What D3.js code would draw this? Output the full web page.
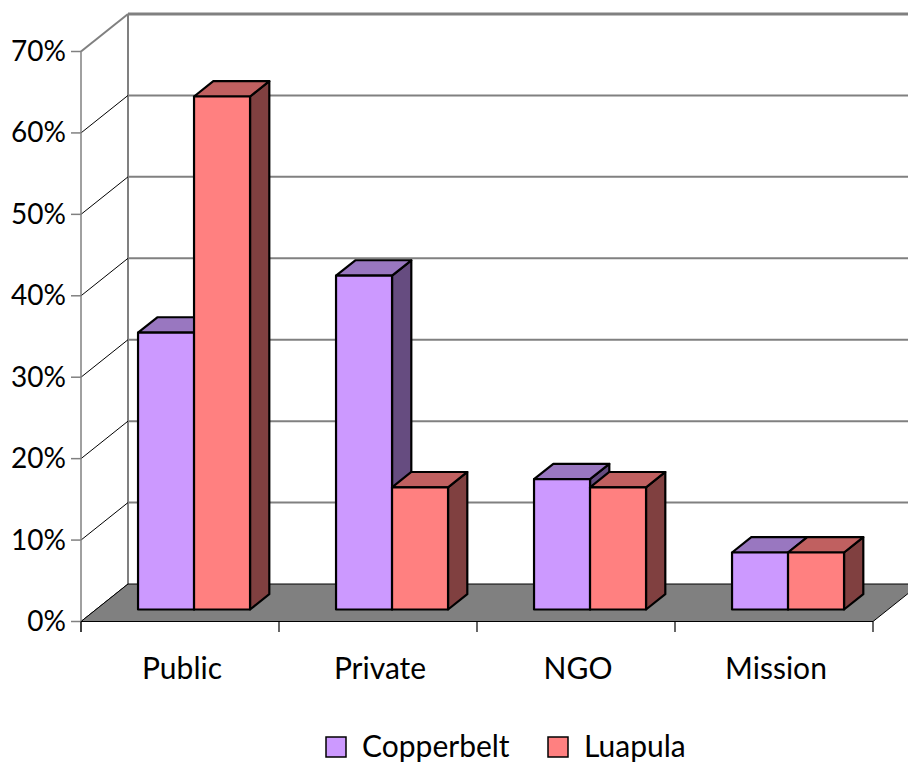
<!DOCTYPE html>
<html>
<head>
<meta charset="utf-8">
<script src="https://cdn.jsdelivr.net/npm/d3@7/dist/d3.min.js"></script>
<style>
  html, body { margin: 0; padding: 0; background: #fff; }
  svg { display: block; }
  text { font-family: Lato, "Open Sans", sans-serif; fill: #000; }
</style>
</head>
<body>
<svg id="chart" width="908" height="762"></svg>
<script>
// Share of facilities by ownership type, per province (%)
const categories = ["Public", "Private", "NGO", "Mission"];
const series = ["Copperbelt", "Luapula"];
const copperbelt = [34, 41, 16, 7];
const luapula = [63, 15, 15, 7];
const yTicks = [0, 10, 20, 30, 40, 50, 60, 70];

const values = { Copperbelt: copperbelt, Luapula: luapula };
const palette = {
  Copperbelt: { front: "#CC99FF", top: "#9977C0", side: "#664C80" },
  Luapula:    { front: "#FF8080", top: "#C06060", side: "#804040" }
};

const svg = d3.select("#chart");

// Front plane of the 3-D box
const x = d3.scaleBand().domain(categories).range([81, 873]);
const y = d3.scaleLinear().domain([0, 70]).range([621.5, 51.5]);
// Depth vector from front plane to back wall
const DX = 47, DY = -37.5;
const off = t => [DX * t, DY * t];

const gridGray = "#808080";

// Back wall gridlines
const [bx, by] = off(1);
svg.append("g").selectAll("line")
  .data(yTicks.filter(v => v > 0))
  .join("line")
  .attr("x1", 81 + bx).attr("x2", 873 + bx)
  .attr("y1", d => y(d) + by).attr("y2", d => y(d) + by)
  .attr("stroke", gridGray)
  .attr("stroke-width", d => d === 70 ? 3 : 2);

// Back wall left edge
svg.append("line")
  .attr("x1", 81 + bx).attr("x2", 81 + bx)
  .attr("y1", y(70) + by).attr("y2", y(0) + by)
  .attr("stroke", gridGray).attr("stroke-width", 2);

// Side wall diagonals
svg.append("g").selectAll("line")
  .data(yTicks)
  .join("line")
  .attr("x1", 81).attr("x2", 81 + bx)
  .attr("y1", d => y(d)).attr("y2", d => y(d) + by)
  .attr("stroke", d => d === 70 ? gridGray : "#000")
  .attr("stroke-width", d => d === 70 ? 2 : 1);

// Floor
const floorPts = [[81, y(0)], [873, y(0)], [873 + bx, y(0) + by], [81 + bx, y(0) + by]];
svg.append("polygon")
  .attr("points", floorPts.map(p => p.join(",")).join(" "))
  .attr("fill", "#808080")
  .attr("stroke", "#000").attr("stroke-width", 1);

// Bars
const groupWidth = 112;
const inner = d3.scaleBand().domain(series).range([0, groupWidth]);
const zFront = 0.32, zBack = 0.73;
const [fx, fy] = off(zFront);
const [kx, ky] = off(zBack - zFront);

const barData = [];
categories.forEach((c, i) => {
  series.forEach(s => {
    barData.push({ category: c, series: s, value: values[s][i] });
  });
});

const bars = svg.append("g").selectAll("g")
  .data(barData)
  .join("g");

bars.each(function(d) {
  const g = d3.select(this);
  const x0 = x(d.category) + (x.bandwidth() - groupWidth) / 2 + inner(d.series) + fx - 1;
  const x1 = x0 + inner.bandwidth();
  const yb = y(0) + fy;
  const yt = y(d.value) + fy;
  const col = palette[d.series];
  const poly = pts => pts.map(p => p.join(",")).join(" ");
  g.append("polygon")
    .attr("points", poly([[x1, yb], [x1 + kx, yb + ky], [x1 + kx, yt + ky], [x1, yt]]))
    .attr("fill", col.side);
  g.append("polygon")
    .attr("points", poly([[x0, yt], [x1, yt], [x1 + kx, yt + ky], [x0 + kx, yt + ky]]))
    .attr("fill", col.top);
  g.append("rect")
    .attr("x", x0).attr("y", yt)
    .attr("width", x1 - x0).attr("height", yb - yt)
    .attr("fill", col.front);
  g.selectAll("polygon, rect")
    .attr("stroke", "#000").attr("stroke-width", 2.2).attr("stroke-linejoin", "round");
});

// Front vertical axis
svg.append("line")
  .attr("x1", 81).attr("x2", 81)
  .attr("y1", y(70)).attr("y2", y(0) + 10.5)
  .attr("stroke", gridGray).attr("stroke-width", 1.5);
svg.append("g").selectAll("line")
  .data(yTicks)
  .join("line")
  .attr("x1", 71).attr("x2", 81)
  .attr("y1", d => y(d)).attr("y2", d => y(d))
  .attr("stroke", gridGray).attr("stroke-width", 1.5);
svg.append("g").selectAll("text")
  .data(yTicks)
  .join("text")
  .attr("x", 66).attr("y", d => y(d) + 9.5)
  .attr("text-anchor", "end")
  .attr("font-size", 28)
  .text(d => d + "%");

// Category axis
svg.append("line")
  .attr("x1", 81).attr("x2", 873)
  .attr("y1", y(0)).attr("y2", y(0))
  .attr("stroke", "#000").attr("stroke-width", 1.2);
const catEdges = categories.map(c => x(c)).concat([x(categories[3]) + x.bandwidth()]);
svg.append("g").selectAll("line")
  .data(catEdges)
  .join("line")
  .attr("x1", d => d).attr("x2", d => d)
  .attr("y1", y(0)).attr("y2", y(0) + 10.5)
  .attr("stroke", "#000").attr("stroke-width", 1.2);
svg.append("g").selectAll("text")
  .data(categories)
  .join("text")
  .attr("x", d => x(d) + x.bandwidth() / 2 + 2)
  .attr("y", 679)
  .attr("text-anchor", "middle")
  .attr("font-size", 30)
  .text(d => d);

// Legend
const legendX = { Copperbelt: 326, Luapula: 548 };
const leg = svg.append("g").selectAll("g")
  .data(series)
  .join("g")
  .attr("transform", d => `translate(${legendX[d]},737)`);
leg.append("rect")
  .attr("width", 20).attr("height", 20)
  .attr("fill", d => palette[d].front)
  .attr("stroke", "#000").attr("stroke-width", 1.5);
leg.append("text")
  .attr("x", 36).attr("y", 19.5)
  .attr("font-size", 30)
  .text(d => d);
</script>
</body>
</html>
